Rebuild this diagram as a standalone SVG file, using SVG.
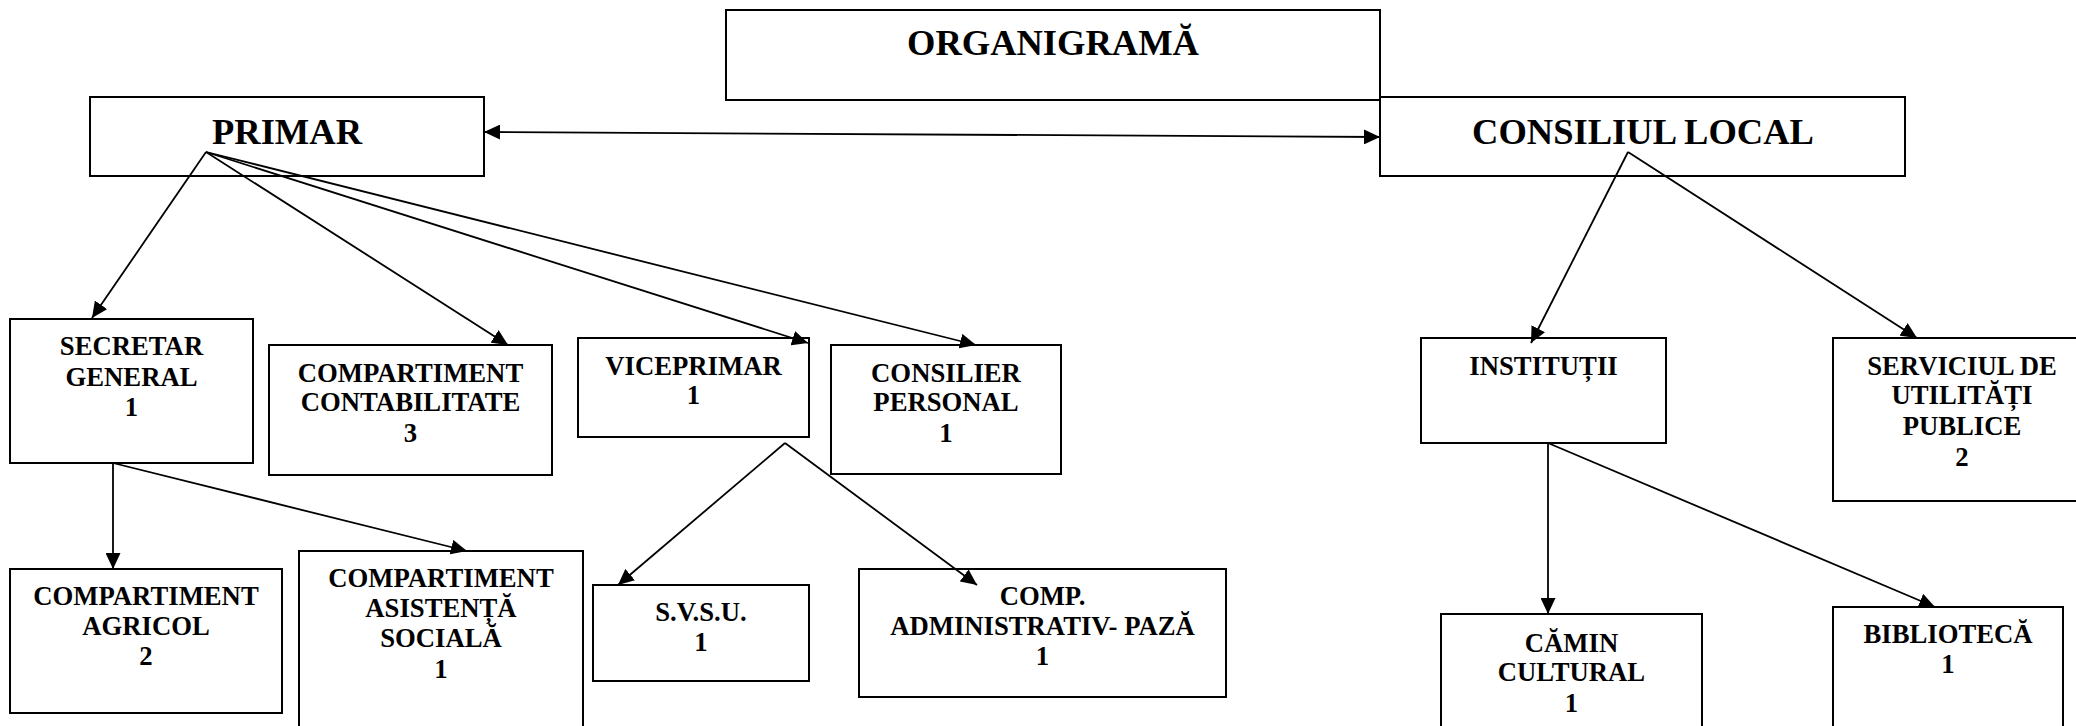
<svg xmlns="http://www.w3.org/2000/svg" width="2076" height="726" viewBox="0 0 2076 726">
<style>
rect{fill:#fff;stroke:#000;stroke-width:2}
text{font-family:"Liberation Serif","Times New Roman",serif;font-weight:bold;fill:#000;text-anchor:middle}
.big{font-size:36.5px}
.sm{font-size:26.7px}
.c line{stroke:#000;stroke-width:1.8;marker-end:url(#ah)}
</style>
<defs>
<marker id="ah" markerUnits="userSpaceOnUse" markerWidth="16" markerHeight="15" refX="16" refY="7.5" orient="auto-start-reverse" viewBox="0 0 16 15">
<path d="M0,0 L16,7.5 L0,15 z" fill="#000"/>
</marker>
</defs>
<rect width="2076" height="726" style="stroke:none"/>
<g id="organigrama"><rect x="726" y="10" width="654" height="90"/><text class="big" x="1053" y="55">ORGANIGRAMĂ</text></g>
<g id="primar"><rect x="90" y="97" width="394" height="79"/><text class="big" x="287" y="144">PRIMAR</text></g>
<g id="consiliul-local"><rect x="1380" y="97" width="525" height="79"/><text class="big" x="1643" y="144">CONSILIUL LOCAL</text></g>
<g id="secretar"><rect x="10" y="319" width="243" height="144"/><text class="sm" x="131.5"><tspan x="131.5" y="355">SECRETAR</tspan><tspan x="131.5" y="386">GENERAL</tspan><tspan x="131.5" y="416">1</tspan></text></g>
<g id="contabilitate"><rect x="269" y="345" width="283" height="130"/><text class="sm"><tspan x="410.5" y="382">COMPARTIMENT</tspan><tspan x="410.5" y="411">CONTABILITATE</tspan><tspan x="410.5" y="442">3</tspan></text></g>
<g id="viceprimar"><rect x="578" y="338" width="231" height="99"/><text class="sm"><tspan x="693.5" y="375">VICEPRIMAR</tspan><tspan x="693.5" y="404">1</tspan></text></g>
<g id="consilier"><rect x="831" y="345" width="230" height="129"/><text class="sm"><tspan x="946" y="382">CONSILIER</tspan><tspan x="946" y="411">PERSONAL</tspan><tspan x="946" y="442">1</tspan></text></g>
<g id="agricol"><rect x="10" y="569" width="272" height="144"/><text class="sm"><tspan x="146" y="605">COMPARTIMENT</tspan><tspan x="146" y="635">AGRICOL</tspan><tspan x="146" y="665">2</tspan></text></g>
<g id="asistenta"><rect x="299" y="551" width="284" height="200"/><text class="sm"><tspan x="441" y="587">COMPARTIMENT</tspan><tspan x="441" y="617">ASISTENȚĂ</tspan><tspan x="441" y="647">SOCIALĂ</tspan><tspan x="441" y="678">1</tspan></text></g>
<g id="svsu"><rect x="593" y="585" width="216" height="96"/><text class="sm"><tspan x="701" y="621">S.V.S.U.</tspan><tspan x="701" y="651">1</tspan></text></g>
<g id="comp-admin"><rect x="859" y="569" width="367" height="128"/><text class="sm"><tspan x="1042.5" y="605">COMP.</tspan><tspan x="1042.5" y="635">ADMINISTRATIV- PAZĂ</tspan><tspan x="1042.5" y="665">1</tspan></text></g>
<g id="institutii"><rect x="1421" y="338" width="245" height="105"/><text class="sm" x="1543.5" y="375">INSTITUȚII</text></g>
<g id="serviciul"><rect x="1833" y="338" width="260" height="163"/><text class="sm"><tspan x="1962" y="375">SERVICIUL DE</tspan><tspan x="1962" y="404">UTILITĂȚI</tspan><tspan x="1962" y="435">PUBLICE</tspan><tspan x="1962" y="466">2</tspan></text></g>
<g id="camin"><rect x="1441" y="614" width="261" height="150"/><text class="sm"><tspan x="1571.5" y="652">CĂMIN</tspan><tspan x="1571.5" y="681">CULTURAL</tspan><tspan x="1571.5" y="712">1</tspan></text></g>
<g id="biblioteca"><rect x="1833" y="607" width="230" height="150"/><text class="sm"><tspan x="1948" y="643">BIBLIOTECĂ</tspan><tspan x="1948" y="673">1</tspan></text></g>
<g id="connectors" class="c">
<line x1="484" y1="132" x2="1380" y2="137" style="marker-start:url(#ah)"/>
<line x1="206" y1="152" x2="92" y2="318"/>
<line x1="206" y1="152" x2="508" y2="345"/>
<line x1="206" y1="152" x2="808" y2="343"/>
<line x1="206" y1="152" x2="976" y2="345"/>
<line x1="1628" y1="152" x2="1531" y2="343"/>
<line x1="1628" y1="152" x2="1917" y2="338"/>
<line x1="113" y1="463" x2="113" y2="569"/>
<line x1="113" y1="463" x2="467" y2="551"/>
<line x1="785" y1="443" x2="618" y2="585"/>
<line x1="785" y1="443" x2="977" y2="585"/>
<line x1="1548" y1="443" x2="1548" y2="614"/>
<line x1="1548" y1="443" x2="1935" y2="607"/>
</g>
</svg>
